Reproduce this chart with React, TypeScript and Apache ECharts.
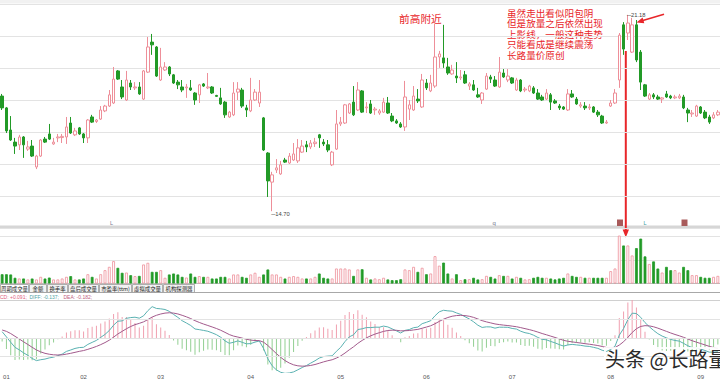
import { useEffect, useRef } from 'react';
import * as echarts from 'echarts';

const opens = [
  18.50, 18.11, 17.38, 16.98, 16.89, 17.15, 16.75, 16.85, 16.16, 16.52,
  17.08, 17.25, 16.92, 17.12, 17.13, 17.15, 17.61, 17.22, 17.45, 17.25,
  17.12, 17.81, 17.66, 17.74, 18.01, 18.17, 18.27, 19.33, 18.80, 18.37,
  18.93, 18.77, 18.80, 18.40, 19.29, 20.28, 20.12, 19.03, 19.36, 19.46,
  19.20, 18.96, 18.80, 18.77, 18.77, 18.60, 18.54, 18.90, 18.77, 18.80,
  18.52, 18.44, 18.30, 17.81, 17.88, 18.63, 18.70, 18.11, 18.01, 18.37,
  18.27, 17.78, 16.62, 15.66, 16.06, 15.93, 16.39, 16.29, 16.39, 16.36,
  16.65, 16.89, 16.82, 16.93, 17.22, 16.98, 16.89, 16.23, 16.75, 17.58,
  17.61, 17.94, 18.30, 18.04, 18.67, 18.11, 18.24, 18.04, 17.94, 17.97,
  18.27, 17.84, 17.68, 17.58, 17.48, 18.07, 18.04, 18.40, 18.14, 18.93,
  18.67, 18.83, 19.79, 19.76, 19.46, 19.23, 19.16, 19.10, 19.20, 18.83,
  18.87, 18.54, 18.37, 18.73, 19.13, 19.03, 18.80, 19.26, 19.03, 19.10,
  18.70, 19.03, 18.70, 18.67, 18.77, 18.60, 18.47, 18.40, 18.54, 18.34,
  18.17, 18.14, 18.04, 18.57, 18.40, 18.17, 18.17, 18.11, 18.14, 17.97,
  17.84, 17.61, 18.17, 18.27, 19.03, 20.85, 20.58, 19.95, 20.85, 19.95,
  18.87, 18.40, 18.54, 18.47, 18.40, 18.57, 18.50, 18.44, 18.44, 18.47,
  18.04, 17.91, 17.84, 18.14, 17.97, 17.81, 17.78, 17.88,
];
const closes = [
  18.11, 17.35, 17.05, 16.85, 17.15, 16.89, 16.82, 16.52, 16.52, 17.05,
  16.98, 17.08, 16.98, 17.15, 17.17, 17.48, 17.28, 17.35, 17.25, 17.12,
  17.71, 17.64, 17.71, 18.04, 18.17, 18.54, 19.06, 19.06, 18.47, 19.03,
  18.80, 18.80, 18.57, 19.33, 20.12, 20.19, 19.16, 19.46, 19.46, 19.23,
  18.93, 18.87, 18.70, 18.80, 18.70, 18.37, 18.87, 18.83, 18.80, 18.60,
  18.49, 18.24, 17.88, 17.97, 18.60, 18.73, 18.17, 18.04, 18.37, 18.63,
  18.63, 16.72, 15.70, 15.90, 16.13, 16.23, 16.32, 16.52, 16.59, 16.79,
  16.85, 16.82, 16.95, 16.98, 17.12, 16.92, 16.72, 16.65, 17.58, 17.64,
  18.21, 18.24, 17.88, 18.70, 17.97, 18.14, 17.94, 18.07, 18.01, 18.30,
  17.94, 17.68, 17.61, 17.48, 18.47, 18.21, 18.50, 18.34, 19.03, 18.77,
  18.93, 19.79, 19.89, 19.59, 19.26, 19.36, 19.10, 19.13, 18.93, 18.90,
  18.70, 18.47, 18.60, 19.16, 19.06, 18.83, 19.29, 19.13, 19.16, 18.93,
  19.03, 18.67, 18.73, 18.83, 18.60, 18.40, 18.37, 18.60, 18.30, 18.27,
  18.11, 18.07, 18.57, 18.47, 18.24, 18.21, 18.11, 18.14, 17.97, 17.88,
  17.61, 17.64, 18.27, 18.60, 20.51, 20.05, 20.91, 20.85, 19.69, 18.96,
  18.50, 18.54, 18.47, 18.40, 18.44, 18.47, 18.44, 18.47, 18.50, 18.11,
  17.94, 17.94, 18.17, 17.94, 17.78, 17.64, 17.88, 17.97,
];
const lows = [
  18.04, 17.28, 17.02, 16.59, 16.72, 16.46, 16.69, 16.49, 16.09, 16.49,
  16.95, 17.05, 16.89, 16.98, 16.95, 16.92, 17.25, 17.18, 17.22, 16.95,
  16.95, 17.61, 17.61, 17.71, 17.97, 18.14, 18.24, 19.03, 18.40, 18.34,
  18.70, 18.70, 18.54, 18.37, 19.26, 19.86, 19.13, 19.00, 19.33, 19.16,
  18.90, 18.73, 18.63, 18.44, 18.67, 18.21, 18.27, 18.80, 18.73, 18.57,
  18.47, 18.21, 17.78, 17.78, 17.84, 18.37, 18.11, 17.81, 17.97, 18.34,
  18.14, 16.69, 15.17, 14.70, 15.96, 15.90, 16.29, 16.26, 16.36, 16.29,
  16.62, 16.65, 16.75, 16.82, 16.79, 16.85, 16.65, 16.19, 16.72, 17.51,
  17.58, 17.91, 17.84, 18.01, 17.94, 17.94, 17.91, 17.88, 17.88, 17.94,
  17.91, 17.64, 17.58, 17.45, 17.35, 17.71, 18.01, 18.27, 18.11, 18.70,
  18.63, 18.77, 19.43, 19.43, 19.20, 19.20, 18.93, 19.03, 18.90, 18.70,
  18.67, 18.44, 18.24, 18.70, 18.93, 18.80, 18.77, 19.10, 18.96, 18.90,
  18.67, 18.63, 18.63, 18.63, 18.57, 18.37, 18.34, 18.37, 18.04, 18.24,
  18.04, 18.04, 18.01, 18.44, 18.21, 18.11, 18.04, 18.04, 17.94, 17.81,
  17.58, 17.58, 18.14, 18.24, 18.77, 19.86, 20.35, 19.92, 19.62, 18.70,
  18.47, 18.37, 18.40, 18.37, 18.27, 18.44, 18.40, 18.40, 18.40, 18.07,
  17.64, 17.81, 17.81, 17.91, 17.74, 17.58, 17.74, 17.84,
];
const highs = [
  18.57, 18.14, 17.84, 17.12, 17.22, 17.18, 17.02, 17.05, 16.56, 17.08,
  17.15, 17.58, 17.12, 17.25, 17.25, 17.81, 17.81, 17.45, 17.48, 17.28,
  17.74, 17.88, 17.74, 18.17, 18.21, 18.70, 19.46, 19.36, 19.03, 19.33,
  19.03, 18.96, 18.96, 19.36, 20.45, 20.55, 20.15, 20.09, 19.62, 19.49,
  19.23, 19.03, 19.03, 18.90, 19.03, 18.63, 18.90, 18.93, 19.26, 18.83,
  18.54, 18.77, 18.34, 18.01, 18.96, 18.96, 18.77, 18.21, 19.10, 18.73,
  19.03, 17.81, 16.65, 16.00, 16.42, 16.36, 16.46, 16.62, 16.95, 17.08,
  17.05, 17.02, 17.05, 17.12, 17.25, 17.08, 17.05, 16.69, 18.04, 17.81,
  18.24, 18.27, 18.83, 18.96, 18.70, 18.30, 18.37, 18.14, 18.07, 18.44,
  18.47, 17.94, 17.74, 17.64, 19.00, 18.37, 18.83, 18.73, 19.23, 19.06,
  19.20, 20.88, 19.99, 20.85, 19.76, 19.53, 19.62, 19.36, 19.33, 18.96,
  19.03, 18.77, 18.63, 19.26, 19.20, 19.16, 19.79, 19.39, 19.39, 19.13,
  19.10, 19.06, 18.80, 18.87, 18.83, 18.73, 18.54, 18.73, 18.60, 18.40,
  18.24, 18.17, 18.73, 18.70, 18.47, 18.30, 18.30, 18.24, 18.17, 18.04,
  17.88, 17.71, 18.37, 18.73, 20.58, 20.94, 21.18, 21.08, 21.01, 20.02,
  18.90, 18.60, 18.60, 18.54, 18.47, 18.67, 18.54, 18.54, 18.57, 18.54,
  18.11, 18.04, 18.21, 18.17, 18.04, 17.88, 17.97, 18.04,
];
const volumes = [
  3.9, 3.9, 3.8, 2.4, 2.1, 2.1, 1.7, 2.1, 1.7, 2.8,
  2.1, 2.5, 1.7, 1.7, 2.1, 2.8, 3.1, 1.7, 1.7, 2.1,
  3.9, 2.8, 2.1, 3.9, 5.6, 7.0, 9.4, 6.6, 4.5, 4.6,
  3.5, 3.1, 3.2, 8.0, 8.7, 4.9, 4.9, 5.6, 2.4, 3.8,
  4.2, 3.8, 2.8, 2.5, 4.2, 2.8, 3.1, 2.8, 2.8, 2.1,
  2.1, 2.8, 2.8, 2.1, 3.8, 3.8, 2.8, 2.4, 3.8, 4.5,
  2.8, 3.8, 5.9, 3.8, 3.8, 2.8, 2.1, 2.8, 3.1, 2.8,
  2.1, 2.1, 2.1, 2.8, 4.2, 2.4, 2.1, 2.1, 6.3, 6.3,
  6.3, 5.9, 3.2, 5.9, 6.0, 2.4, 1.7, 2.1, 1.8, 2.4,
  1.7, 1.4, 1.4, 1.8, 5.9, 5.6, 7.0, 4.9, 6.6, 3.9,
  4.2, 11.5, 7.5, 8.8, 4.2, 2.1, 3.9, 1.4, 1.8, 1.8,
  2.4, 1.7, 1.8, 3.2, 2.8, 2.1, 3.5, 3.2, 3.2, 2.1,
  2.8, 2.4, 1.7, 1.8, 2.4, 2.8, 2.4, 2.4, 2.1, 1.7,
  2.1, 2.4, 4.2, 3.2, 2.8, 2.8, 2.4, 2.4, 2.4, 2.4,
  2.4, 2.4, 5.2, 6.3, 20.2, 16.0, 16.0, 11.8, 14.9, 18.9,
  11.4, 8.2, 9.3, 6.3, 4.6, 7.0, 5.6, 5.6, 4.6, 7.0,
  5.6, 3.5, 3.5, 2.8, 2.4, 2.4, 2.8, 3.2,
];
const monthStartIdx = [1, 19, 37, 58, 79, 99, 119, 142, 163];
const monthLabels = ['01', '02', '03', '04', '05', '06', '07', '08', '09'];
const priceRange = [14.146, 21.538];
const volumeRange = [0, 20, 10];
const macdRange = [-0.62, 0.68];
const macdGridLevels = [0.33, 0, -0.33];
const macdSeed = { ema12: 0.35, ema26: 0.2, dea: 0.15 };
const lowMark = { index: 63, value: 14.7 };
const highMark = { index: 146, value: 21.18 };
const tabLabels = ['周期成交量', '金额', '换手率', '盘后成交量', '市盈率(ttm)', '虚拟成交量', '机构探测器'];
const macdLegend = [
  { text: 'MACD: +0.091;', color: '#e0607e' },
  { text: 'DIFF: -0.137;', color: '#4fa3a3' },
  { text: 'DEA: -0.182;', color: '#c0607e' },
];
const noteTop = '前高附近';
const noteLines = ['虽然走出看似阳包阴', '但是放量之后依然出现', '上影线，一般这种走势', '只能看成是继续震荡', '长路量价原创'];
const watermark = '头条 @长路量';

const UP = '#ee8f99';
const DOWN = '#229a27';
const RED = '#e8262a';
const GRID = '#e3e3e3';

export default function App() {
  const ref = useRef<HTMLDivElement>(null);
  useEffect(() => {
    document.body.style.margin = '0';
    if (!ref.current) return;
    const chart = echarts.init(ref.current, undefined, { renderer: 'svg' });
    const categories = closes.map((_, i) => {
      const k = monthStartIdx.indexOf(i);
      return k >= 0 ? monthLabels[k] : String(i);
    });
    const candleData = opens.map((o, i) => [o, closes[i], lows[i], highs[i]]);
    const volData = volumes.map((v, i) => {
      const up = closes[i] >= opens[i];
      return {
        value: v,
        itemStyle: up
          ? { color: '#fff', borderColor: UP, borderWidth: 0.8 }
          : { color: DOWN, borderColor: DOWN, borderWidth: 0.8 },
      };
    });
    let e12 = closes[0] + macdSeed.ema12;
    let e26 = closes[0] + macdSeed.ema26;
    let dea = macdSeed.dea;
    const diffArr: number[] = [];
    const deaArr: number[] = [];
    const histArr: any[] = [];
    closes.forEach((c) => {
      e12 += ((c - e12) * 2) / 13;
      e26 += ((c - e26) * 2) / 27;
      const d = e12 - e26;
      dea += ((d - dea) * 2) / 10;
      diffArr.push(+d.toFixed(4));
      deaArr.push(+dea.toFixed(4));
      const h = 2 * (d - dea);
      histArr.push({ value: +h.toFixed(4), itemStyle: { color: h >= 0 ? '#f0a0b0' : '#92cf92' } });
    });

    const tabEdges = [0, 29, 47, 68, 99, 132, 163, 195];
    const graphics: any[] = [
      { type: 'rect', shape: { x: 0, y: 0, width: 720, height: 3.5 }, style: { fill: '#f1f1f1' }, silent: true },
      { type: 'rect', shape: { x: 0, y: 225.5, width: 720, height: 2.5 }, style: { fill: '#d6d6d6' }, silent: true },
      { type: 'line', shape: { x1: 0, y1: 292.5, x2: 720, y2: 292.5 }, style: { stroke: '#a8a8a8', lineWidth: 1 }, silent: true },
      { type: 'line', shape: { x1: 0, y1: 300.5, x2: 720, y2: 300.5 }, style: { stroke: '#d0d0d0', lineWidth: 1 }, silent: true },
    ];
    tabLabels.forEach((t, k) => {
      const x0 = tabEdges[k];
      const x1 = tabEdges[k + 1];
      graphics.push({
        type: 'rect',
        shape: { x: x0 + 0.5, y: 284.5, width: x1 - x0 - 1, height: 8 },
        style: { fill: k === 0 ? '#ffffff' : '#f2f2f2', stroke: '#9a9a9a', lineWidth: 0.8 },
        silent: true,
      });
      graphics.push({
        type: 'text',
        x: (x0 + x1) / 2,
        y: 288.6,
        style: { text: t, fontSize: 5.4, fill: '#222', align: 'center', verticalAlign: 'middle', fontFamily: 'Noto Sans CJK SC' },
        silent: true,
      });
    });
    const legendX = [-7.5, 29.5, 63.5];
    macdLegend.forEach((m, k) => {
      graphics.push({
        type: 'text',
        x: legendX[k],
        y: 297,
        style: { text: m.text, fontSize: 5, fill: m.color, verticalAlign: 'middle', fontFamily: 'Liberation Sans' },
        silent: true,
      });
    });
    noteLines.forEach((line, k) => {
      graphics.push({
        type: 'text', x: 507, y: 12.6 + k * 10.6,
        style: { text: line, fontSize: 9.6, lineHeight: 10, fill: RED, verticalAlign: 'middle', fontFamily: 'Noto Sans CJK SC' },
        silent: true,
      });
    });
    graphics.push(
      {
        type: 'text', x: 399, y: 18.3,
        style: { text: noteTop, fontSize: 10.7, fill: RED, verticalAlign: 'middle', fontFamily: 'Noto Sans CJK SC' },
        silent: true,
      },
      { type: 'line', shape: { x1: 664, y1: 14.3, x2: 642, y2: 20.8 }, style: { stroke: RED, lineWidth: 1.6 }, silent: true },
      { type: 'polygon', shape: { points: [[636.5, 22.6], [642.6, 17.4], [644.3, 23.2]] }, style: { fill: RED }, silent: true },
      { type: 'line', shape: { x1: 625.8, y1: 51, x2: 625.8, y2: 231 }, style: { stroke: RED, lineWidth: 2 }, silent: true },
      { type: 'polygon', shape: { points: [[625.8, 237.5], [622.6, 229.5], [629, 229.5]] }, style: { fill: RED }, silent: true },
      { type: 'text', x: 110, y: 222.5, style: { text: 'L', fontSize: 5.5, fill: '#7a7a90', verticalAlign: 'middle' }, silent: true },
      { type: 'text', x: 492.5, y: 222.5, style: { text: 'q', fontSize: 6, fill: '#7a7a90', verticalAlign: 'middle' }, silent: true },
      { type: 'text', x: 643.5, y: 222.5, style: { text: 'L', fontSize: 5.5, fill: '#3aa0a0', verticalAlign: 'middle' }, silent: true },
      { type: 'rect', shape: { x: 617, y: 219.5, width: 6, height: 6.5 }, style: { fill: '#a85a5a' }, silent: true },
      { type: 'rect', shape: { x: 681.5, y: 219.5, width: 6, height: 6.5 }, style: { fill: '#a85a5a' }, silent: true },
      {
        type: 'text', x: 605, y: 358,
        style: { text: watermark, fontSize: 20, fill: '#2b2b2b', verticalAlign: 'middle', fontFamily: 'Noto Sans CJK SC', textBorderColor: 'rgba(255,255,255,0.9)', textBorderWidth: 2 },
        silent: true, z: 100,
      },
    );

    const pointLabel = (text: string, dy: number) => ({
      show: true,
      position: 'right',
      distance: 0,
      offset: [-1, dy],
      formatter: text,
      fontSize: 5.8,
      color: '#444',
    });

    chart.setOption({
      animation: false,
      backgroundColor: '#ffffff',
      grid: [
        { left: 0, right: 0, top: 4, height: 224 },
        { left: 0, right: 0, top: 236, height: 47.5 },
        { left: 0, right: 0, top: 300, height: 72.7 },
      ],
      xAxis: [
        { type: 'category', gridIndex: 0, data: categories, show: false },
        {
          type: 'category', gridIndex: 1, data: categories,
          axisLine: { lineStyle: { color: '#bdbdbd' } }, axisTick: { show: false }, axisLabel: { show: false },
        },
        {
          type: 'category', gridIndex: 2, data: categories,
          axisLine: { lineStyle: { color: '#9a9a9a' } }, axisTick: { show: false },
          axisLabel: {
            interval: (idx: number) => monthStartIdx.includes(idx),
            fontSize: 6, color: '#555', margin: 1.5,
          },
        },
      ],
      yAxis: [
        { type: 'value', gridIndex: 0, min: priceRange[0], max: priceRange[1], show: false, splitLine: { show: false } },
        {
          type: 'value', gridIndex: 0, min: 0, max: 7, interval: 1,
          axisLine: { show: false }, axisTick: { show: false }, axisLabel: { show: false },
          splitLine: { lineStyle: { color: GRID } },
        },
        {
          type: 'value', gridIndex: 1, min: volumeRange[0], max: volumeRange[1], interval: volumeRange[2],
          axisLine: { show: false }, axisTick: { show: false }, axisLabel: { show: false },
          splitLine: { lineStyle: { color: GRID } },
        },
        { type: 'value', gridIndex: 2, min: macdRange[0], max: macdRange[1], show: false, splitLine: { show: false } },
      ],
      series: [
        {
          type: 'candlestick', xAxisIndex: 0, yAxisIndex: 0, data: candleData, barWidth: 2.8,
          itemStyle: { color: '#ffffff', color0: DOWN, borderColor: UP, borderColor0: DOWN, borderWidth: 1 },
          markPoint: {
            symbol: 'circle', symbolSize: 0.1, animation: false,
            data: [
              { coord: [lowMark.index, lowMark.value], label: pointLabel('─' + lowMark.value.toFixed(2), 3) },
              { coord: [highMark.index, highMark.value], label: pointLabel('─' + highMark.value.toFixed(2), 0) },
            ],
          },
        },
        { type: 'bar', xAxisIndex: 1, yAxisIndex: 2, data: volData, barWidth: 2.8 },
        {
          type: 'bar', xAxisIndex: 2, yAxisIndex: 3, data: histArr, barWidth: 1,
          markLine: {
            silent: true, symbol: ['none', 'none'], label: { show: false }, animation: false,
            lineStyle: { color: GRID, type: 'solid', width: 1 },
            data: macdGridLevels.map((v) => ({ yAxis: v })),
          },
        },
        {
          type: 'line', xAxisIndex: 2, yAxisIndex: 3, data: diffArr, showSymbol: false, symbol: 'none',
          lineStyle: { color: '#5ab1b1', width: 1 }, z: 3,
        },
        {
          type: 'line', xAxisIndex: 2, yAxisIndex: 3, data: deaArr, showSymbol: false, symbol: 'none',
          lineStyle: { color: '#a25a8c', width: 1 }, z: 3,
        },
      ],
      graphic: graphics,
    });
    return () => chart.dispose();
  }, []);
  return <div ref={ref} style={{ width: 720, height: 380 }} />;
}
